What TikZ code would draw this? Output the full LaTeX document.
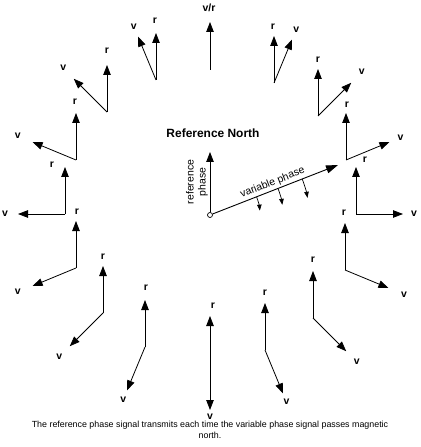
\documentclass[tikz,border=0pt]{standalone}
\usepackage{fontspec}
\setmainfont{Liberation Sans}
\usepackage{xcolor}
\definecolor{dialInk}{HTML}{000000}
\usepackage{tikz}
\usetikzlibrary{arrows.meta,calc}
\tikzset{
    vec/.style={
        -{Triangle[length=10bp,width=7.5bp]},
        line width=0.8bp,
        draw=dialInk
    },
    phasevec/.style={
        -{Triangle[length=12bp,width=8bp]},
        line width=0.9bp,
        draw=dialInk
    },
    swing/.style={
        -{Triangle[length=6bp,width=4.5bp]},
        line width=0.7bp,
        draw=dialInk
    },
    vtag/.style={
        font=\fontsize{10.5}{12}\selectfont\bfseries,
        inner sep=0pt
    },
    note/.style={
        font=\fontsize{10.5}{12}\selectfont,
        inner sep=1pt
    }
}

\begin{document}
\begin{tikzpicture}[x=1bp,y=-1bp]
    \useasboundingbox (0,0) rectangle (420,447);
    % centre of the dial
    \node[circle, draw=dialInk, fill=white, inner sep=0pt, minimum size=5bp, line width=0.7bp] (hub) at (210,215) {};
    \coordinate (reftip) at (210,152);
    \coordinate (vartip) at (338,165);
    \draw[vec] (hub) -- (reftip);
    \draw[phasevec] (hub) -- node[note, sloped, above=1bp] (varlbl) {variable phase} (vartip);
    \node[note, rotate=90, align=center] (reflbl) at (197,182) {reference\\phase};
    \foreach \rad/\ea in {50/5, 73/8, 99/10}
        \draw[swing] ($(hub.center)+(-21.3:\rad)$) arc[start angle=-21.3, end angle=-\ea, radius=\rad];
    \node[font=\fontsize{12}{14}\selectfont\bfseries] (refnorth) at (213,133) {Reference North};

    % north: both signals together
    \coordinate (b0) at (210,70);
    \coordinate (r0) at (210,22);
    \draw[vec] (b0) -- (r0);
    \node[vtag] (vr0) at (209,8) {v/r};

    % the other positions round the dial
    \foreach \k/\bx/\by/\rdx/\rdy/\vd in {
        1/274/83/-1/-9/58, 2/318/116/0/-9/62, 3/346/160/1/-8/59,
        4/356/214/9/-7/58, 5/345/270/-1/-10/64, 6/313/318/0/-11/62,
        7/265/350/0/-10/56, 8/210/363/3/-10/54, 9/145/347/1/-12/57,
        10/103/313/0/-9/62, 11/76/268/1/-9/63, 12/65/214/-13/-2/60,
        13/76/160/-1/-11/63, 14/107/112/0/-14/62, 15/156/80/-1/-12/58}
    {
        \coordinate (b\k) at (\bx,\by);
        \coordinate (r\k) at (\bx,{\by-47});
        \coordinate (v\k) at ($(b\k)+({22.5*\k-90}:47)$);
        \draw[vec] (b\k) -- (r\k);
        \draw[vec] (b\k) -- (v\k);
        \node[vtag] (rl\k) at ($(r\k)+(\rdx,\rdy)$) {r};
        \node[vtag] (vl\k) at ($(b\k)+({22.5*\k-90}:\vd)$) {v};
    }

    \node[font=\fontsize{8.9}{10.5}\selectfont, align=center] (caption) at (210,430)
        {The reference phase signal transmits each time the variable phase signal passes magnetic\\north.};
\end{tikzpicture}
\end{document}
